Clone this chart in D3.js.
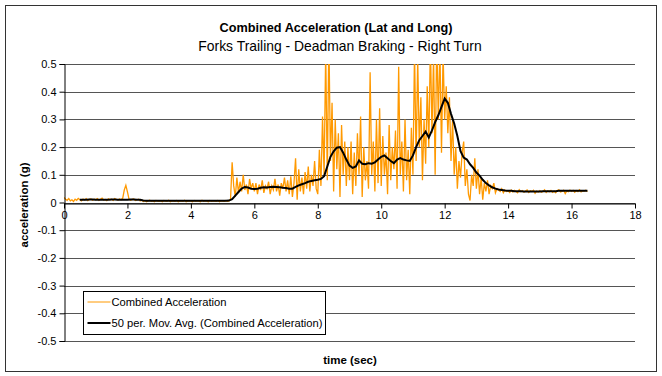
<!DOCTYPE html>
<html>
<head>
<meta charset="utf-8">
<script src="https://cdn.jsdelivr.net/npm/d3@7"></script>
<style>
  body { margin: 0; background: #fff; }
  svg { font-family: "Liberation Sans", Arial, sans-serif; }
</style>
</head>
<body>
<div id="chart-container"></div>
<script>
// raw samples, one every 0.05 s starting at t = 0
var rawStep = 0.05
var rawStart = 0
var combinedAccel = [
  0.018,0.012,0.008,0.014,0.006,0.010,0.004,0.012,0.008,0.015,0.010,0.006,0.012,0.009,0.014,0.007,0.011,0.013,0.008,0.012,
  0.010,0.014,0.008,0.012,0.016,0.009,0.011,0.007,0.013,0.010,0.012,0.008,0.014,0.011,0.009,0.013,0.010,0.015,0.045,0.062,
  0.038,0.012,0.008,0.011,0.013,0.007,0.010,0.012,0.006,0.009,0.004,0.007,0.003,0.006,0.008,0.004,0.006,0.003,0.007,0.005,
  0.004,0.006,0.003,0.007,0.005,0.004,0.008,0.003,0.006,0.005,0.004,0.007,0.003,0.005,0.006,0.004,0.008,0.003,0.005,0.006,
  0.005,0.003,0.007,0.004,0.006,0.005,0.003,0.008,0.004,0.006,0.005,0.003,0.007,0.004,0.006,0.005,0.004,0.007,0.003,0.006,
  0.005,0.004,0.007,0.004,0.006,0.012,0.145,0.060,0.020,0.090,0.035,0.075,0.040,0.100,0.045,0.065,0.030,0.085,0.050,0.070,
  0.040,0.070,0.030,0.065,0.045,0.080,0.035,0.060,0.050,0.075,0.030,0.060,0.045,0.085,0.040,0.065,0.025,0.070,0.050,0.090,
  0.040,0.080,0.030,0.095,0.020,0.070,0.160,0.010,0.120,0.040,0.090,0.030,0.110,0.050,0.130,0.040,0.100,0.060,0.150,0.050,
  0.030,0.190,0.060,0.310,0.100,0.550,0.080,0.600,0.150,0.360,0.040,0.300,0.120,0.250,0.020,0.280,0.100,0.220,0.060,0.200,
  0.080,0.220,0.030,0.180,0.060,0.250,0.100,0.310,0.020,0.200,0.080,0.150,0.050,0.470,0.100,0.220,0.040,0.300,0.070,0.340,
  0.060,0.240,0.100,0.180,0.030,0.280,0.080,0.200,0.120,0.260,0.050,0.490,0.100,0.220,0.040,0.300,0.080,0.190,0.030,0.270,
  0.100,0.550,0.150,0.520,0.200,0.380,0.080,0.300,0.140,0.420,0.200,0.580,0.250,0.530,0.100,0.600,0.300,0.560,0.180,0.540,
  0.300,0.420,0.250,0.380,0.150,0.300,0.100,0.200,0.050,0.150,0.090,0.180,0.220,0.060,0.120,0.030,0.007,0.100,0.060,0.160,
  0.050,0.120,0.030,0.090,0.010,0.070,0.040,0.080,0.030,0.060,0.050,0.070,0.035,0.050,0.045,0.040,0.050,0.035,0.045,0.040,
  0.042,0.036,0.045,0.038,0.044,0.040,0.035,0.046,0.039,0.043,0.037,0.041,0.045,0.036,0.042,0.040,0.044,0.033,0.041,0.038,
  0.043,0.037,0.040,0.046,0.036,0.042,0.039,0.044,0.037,0.041,0.035,0.043,0.046,0.038,0.040,0.044,0.032,0.042,0.039,0.045,
  0.040,0.044,0.037,0.043,0.039,0.046,0.038,0.042,0.041,0.044,0.040
]

// 50 per. moving average, read every 0.1 s starting at t = 0.5
var avgStep = 0.1
var avgStart = 0.5
var movingAvg = [
  0.010,0.010,0.010,0.011,0.011,0.010,0.010,0.010,0.010,0.010,
  0.011,0.011,0.010,0.010,0.010,0.010,0.011,0.011,0.010,0.010,
  0.007,0.006,0.006,0.006,0.006,0.006,0.006,0.006,0.006,0.006,
  0.006,0.006,0.006,0.006,0.006,0.006,0.006,0.006,0.006,0.006,
  0.006,0.006,0.006,0.006,0.006,0.006,0.006,0.007,
  0.012,0.025,0.038,0.050,0.056,0.054,0.050,0.049,0.050,0.053,
  0.055,0.054,0.056,0.057,0.056,0.055,0.053,0.052,0.050,0.050,
  0.056,0.062,0.066,0.070,0.075,0.078,0.080,0.082,0.085,0.095,
  0.130,0.165,0.185,0.198,0.200,0.180,0.155,0.133,0.125,0.130,
  0.152,0.140,0.138,0.142,0.140,0.145,0.155,0.165,0.170,0.160,
  0.150,0.142,0.155,0.160,0.155,0.152,0.150,0.170,0.200,0.225,
  0.240,0.256,0.235,0.260,0.290,0.315,0.345,0.375,0.360,0.320,
  0.285,0.240,0.185,0.162,0.155,0.138,0.125,0.108,0.097,0.082,
  0.070,0.062,0.055,0.050,0.047,0.045,0.043,0.042,0.042,0.041,
  0.041,0.041,0.040,0.040,0.040,0.040,0.040,0.040,0.041,0.041,
  0.041,0.041,0.041,0.042,0.042,0.042,0.042,0.042,0.042,0.042,
  0.042,0.042,0.042
]

var xTicks = [0, 2, 4, 6, 8, 10, 12, 14, 16, 18]
var yTicks = [-0.5, -0.4, -0.3, -0.2, -0.1, 0, 0.1, 0.2, 0.3, 0.4, 0.5]

var seriesNames = ['Combined Acceleration', '50 per. Mov. Avg. (Combined Acceleration)']
var seriesColours = ['#ff9900', '#000000']

var chartTitle = 'Combined Acceleration (Lat and Long)'
var chartSubtitle = 'Forks Trailing - Deadman Braking - Right Turn'
var xTitle = 'time (sec)'
var yTitle = 'acceleration (g)'

var width = 662, height = 376
var margin = {top: 64, right: 27, bottom: 35, left: 64}

var svg = d3.select('#chart-container')
  .append('svg')
  .attr('width', width)
  .attr('height', height)

// outer chart border
svg.append('rect')
  .attr('x', 5.5).attr('y', 5.5)
  .attr('width', 651).attr('height', 366)
  .attr('fill', 'none')
  .attr('stroke', '#333')

var x = d3.scaleLinear().domain([0, 18]).range([margin.left, width - margin.right])
var y = d3.scaleLinear().domain([-0.5, 0.5]).range([height - margin.bottom, margin.top])

// gridlines
svg.append('g')
  .selectAll('line')
  .data(yTicks)
  .enter().append('line')
    .attr('x1', x(0)).attr('x2', x(18))
    .attr('y1', function(d){ return Math.round(y(d)) + 0.5 })
    .attr('y2', function(d){ return Math.round(y(d)) + 0.5 })
    .attr('stroke', '#555')

svg.append('defs').append('clipPath')
  .attr('id', 'plot-clip')
  .append('rect')
    .attr('x', x(0)).attr('y', y(0.5))
    .attr('width', x(18) - x(0)).attr('height', y(-0.5) - y(0.5))

var rawLine = d3.line()
  .x(function(d, i){ return x(rawStart + i * rawStep) })
  .y(function(d){ return y(d) })

var avgLine = d3.line()
  .x(function(d, i){ return x(avgStart + i * avgStep) })
  .y(function(d){ return y(d) })

var plot = svg.append('g').attr('clip-path', 'url(#plot-clip)')

plot.append('path')
  .datum(combinedAccel)
  .attr('d', rawLine)
  .attr('fill', 'none')
  .attr('stroke', seriesColours[0])
  .attr('stroke-width', 1.3)

plot.append('path')
  .datum(movingAvg)
  .attr('d', avgLine)
  .attr('fill', 'none')
  .attr('stroke', seriesColours[1])
  .attr('stroke-width', 2)

// y axis
var yAxis = d3.axisLeft(y)
  .tickValues(yTicks)
  .tickSize(5)
  .tickFormat(function(d){ return d === 0 ? '0' : d.toFixed(1) })

var yg = svg.append('g')
  .attr('transform', 'translate(' + (x(0) + 0.5) + ',0)')
  .call(yAxis)
yg.select('.domain').attr('stroke', '#000')
yg.selectAll('.tick line').attr('stroke', '#000')
yg.selectAll('text').style('font-size', '11px').attr('fill', '#000').attr('x', -8)

// x axis crosses at 0
var xAxis = d3.axisBottom(x)
  .tickValues(xTicks)
  .tickSize(5)
  .tickSizeOuter(0)
  .tickFormat(d3.format('d'))

var xg = svg.append('g')
  .attr('transform', 'translate(0,' + (Math.round(y(0)) + 0.5) + ')')
  .call(xAxis)
xg.select('.domain').attr('stroke', '#000')
xg.selectAll('.tick line').attr('stroke', '#000')
xg.selectAll('text').style('font-size', '11px').attr('fill', '#000').attr('y', 8)

// titles
svg.append('text')
  .attr('x', 336).attr('y', 32)
  .attr('text-anchor', 'middle')
  .style('font-size', '12.7px').style('font-weight', 'bold')
  .text(chartTitle)

svg.append('text')
  .attr('x', 340).attr('y', 51)
  .attr('text-anchor', 'middle')
  .style('font-size', '13.9px')
  .text(chartSubtitle)

svg.append('text')
  .attr('x', 350).attr('y', 364)
  .attr('text-anchor', 'middle')
  .style('font-size', '11.5px').style('font-weight', 'bold')
  .text(xTitle)

svg.append('text')
  .attr('transform', 'translate(28,205) rotate(-90)')
  .attr('text-anchor', 'middle')
  .style('font-size', '11.5px').style('font-weight', 'bold')
  .text(yTitle)

// legend
var legend = svg.append('g').attr('transform', 'translate(83.5,291.5)')
legend.append('rect')
  .attr('width', 242).attr('height', 43)
  .attr('fill', '#fff').attr('stroke', '#000')

var legendItems = legend.selectAll('.legend-item')
  .data(seriesNames)
  .enter().append('g')
    .attr('class', 'legend-item')
    .attr('transform', function(d, i){ return 'translate(0,' + (10.5 + i * 21) + ')' })

legendItems.append('line')
  .attr('x1', 4).attr('x2', 27)
  .attr('stroke', function(d, i){ return seriesColours[i] })
  .attr('stroke-width', function(d, i){ return i === 0 ? 1 : 2 })

legendItems.append('text')
  .attr('x', 28).attr('y', 4)
  .style('font-size', '11.2px')
  .text(function(d){ return d })
</script>
</body>
</html>
